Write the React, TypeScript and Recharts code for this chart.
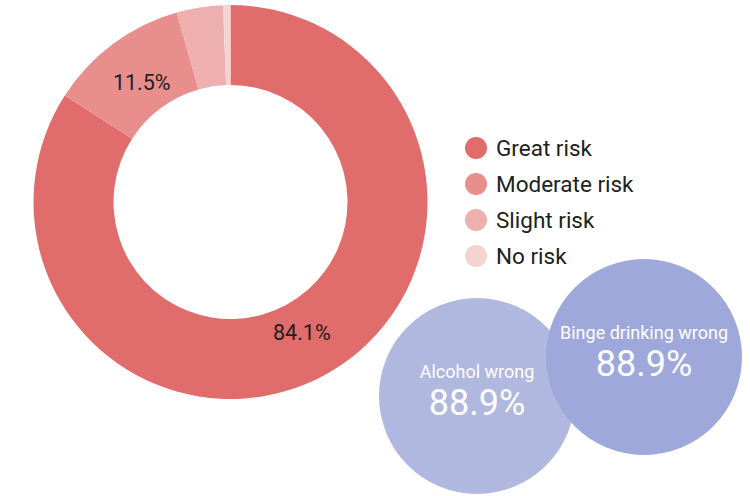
import { PieChart, Pie, Cell, Legend, ScatterChart, Scatter, XAxis, YAxis, ZAxis } from "recharts";

const riskLabels = ["Great risk", "Moderate risk", "Slight risk", "No risk"];
const riskValues = [84.1, 11.5, 3.8, 0.6];
const riskColors = ["#E06C6C", "#E88E8C", "#EEB0AF", "#F4D3D3"];

const bubbleNames = ["Alcohol wrong", "Binge drinking wrong"];
const bubbleValues = [88.9, 88.9];
const bubbleColors = ["#B0B8E0", "#9FA8DA"];
// packed layout positions (not data)
const bubbleX = [477, 644];
const bubbleY = [396, 357];

const W = 750;
const H = 496;
const FONT = "Roboto, sans-serif";

const pieData = riskLabels.map((name, i) => ({ name, value: riskValues[i] }));
const bubbleData = bubbleNames.map((name, i) => ({
  name,
  value: bubbleValues[i],
  x: bubbleX[i],
  y: bubbleY[i],
  color: bubbleColors[i],
}));

const renderLabel = (props: any) => {
  const { cx, cy, midAngle, innerRadius, outerRadius, value } = props;
  if (value < 5) return null;
  const r = innerRadius + (outerRadius - innerRadius) * 0.4;
  const rad = (Math.PI / 180) * midAngle;
  const x = cx + r * Math.cos(rad);
  const y = cy - r * Math.sin(rad);
  return (
    <text x={x} y={y} textAnchor="middle" dominantBaseline="central" fill="#212121" fontSize={21.5} fontFamily={FONT}>
      {value.toFixed(1)}%
    </text>
  );
};

const renderLegend = () => (
  <div style={{ fontFamily: FONT }}>
    {riskLabels.map((l, i) => (
      <div key={l} style={{ display: "flex", alignItems: "center", height: 36 }}>
        <span
          style={{
            display: "inline-block",
            width: 22,
            height: 22,
            borderRadius: 11,
            background: riskColors[i],
            marginRight: 9,
            flexShrink: 0,
          }}
        />
        <span style={{ fontSize: 22.5, color: "#212121", whiteSpace: "nowrap" }}>{l}</span>
      </div>
    ))}
  </div>
);

const BubbleShape = (props: any) => {
  const { cx, cy, size, payload } = props;
  const r = size ? Math.sqrt(size / Math.PI) : 98;
  return (
    <g>
      <circle cx={cx} cy={cy} r={r} fill={payload.color} />
      <text x={cx} y={cy - 18} textAnchor="middle" fill="#fff" fontSize={18} fontFamily={FONT}>
        {payload.name}
      </text>
      <text x={cx} y={cy + 19} textAnchor="middle" fill="#fff" fontSize={36} fontFamily={FONT}>
        {payload.value.toFixed(1)}%
      </text>
    </g>
  );
};

export default function App() {
  return (
    <div style={{ position: "absolute", left: 0, top: 0, width: W, height: H, background: "#fff" }}>
      <div style={{ position: "absolute", left: 0, top: 0 }}>
        <PieChart width={W} height={H} margin={{ top: 0, right: 0, bottom: 0, left: 0 }}>
          <Pie
            data={pieData}
            dataKey="value"
            nameKey="name"
            cx={230.5}
            cy={202}
            innerRadius={117}
            outerRadius={197}
            startAngle={90}
            endAngle={-270}
            stroke="none"
            label={renderLabel}
            labelLine={false}
            isAnimationActive={false}
          >
            {pieData.map((d, i) => (
              <Cell key={d.name} fill={riskColors[i]} stroke="none" />
            ))}
          </Pie>
          <Legend
            layout="vertical"
            verticalAlign="top"
            align="right"
            content={renderLegend}
            wrapperStyle={{ left: 465, top: 130, width: 220 }}
          />
        </PieChart>
      </div>
      <div style={{ position: "absolute", left: 0, top: 0, pointerEvents: "none" }}>
        <ScatterChart width={W} height={H} margin={{ top: 0, right: 0, bottom: 0, left: 0 }}>
          <XAxis type="number" dataKey="x" domain={[0, W]} hide />
          <YAxis type="number" dataKey="y" domain={[0, H]} reversed hide />
          <ZAxis type="number" dataKey="value" domain={[0, 100]} range={[0, 33940]} />
          <Scatter data={bubbleData} shape={BubbleShape} isAnimationActive={false} />
        </ScatterChart>
      </div>
    </div>
  );
}
